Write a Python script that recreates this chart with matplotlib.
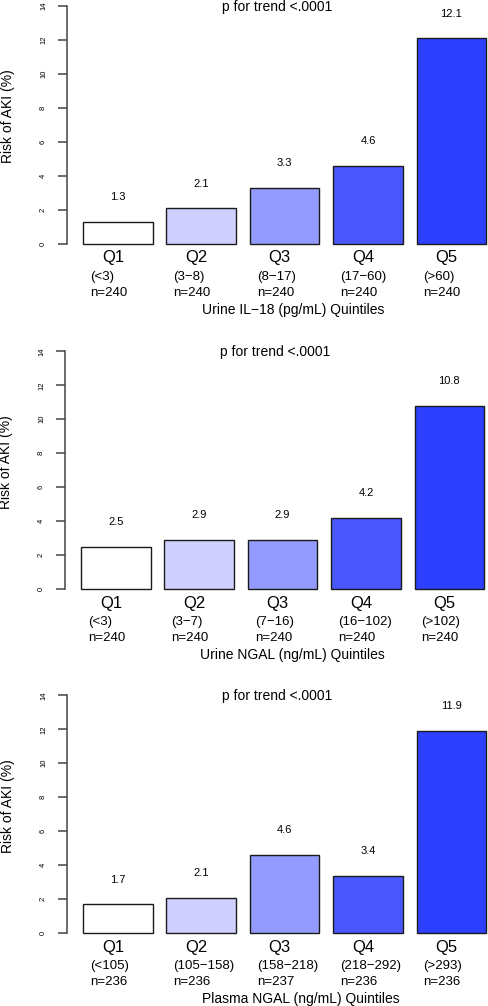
import numpy as np
import matplotlib
matplotlib.use("Agg")
import matplotlib.pyplot as plt

plt.rcParams["font.family"] = ["Liberation Sans", "DejaVu Sans"]

# --- data -------------------------------------------------------------
quintiles = ["Q1", "Q2", "Q3", "Q4", "Q5"]

il18_risk = [1.3, 2.1, 3.3, 4.6, 12.1]
il18_ranges = ["(<3)", "(3\u22128)", "(8\u221217)", "(17\u221260)", "(>60)"]
il18_n = [240, 240, 240, 240, 240]

ungal_risk = [2.5, 2.9, 2.9, 4.2, 10.8]
ungal_ranges = ["(<3)", "(3\u22127)", "(7\u221216)", "(16\u2212102)", "(>102)"]
ungal_n = [240, 240, 240, 240, 240]

pngal_risk = [1.7, 2.1, 4.6, 3.4, 11.9]
pngal_ranges = ["(<105)", "(105\u2212158)", "(158\u2212218)", "(218\u2212292)", "(>293)"]
pngal_n = [236, 236, 237, 236, 236]

xlabels = ["Urine IL\u221218 (pg/mL) Quintiles",
           "Urine NGAL (ng/mL) Quintiles",
           "Plasma NGAL (ng/mL) Quintiles"]
trend_text = "p for trend <.0001"
bar_colors = ["#FFFFFF", "#D0D0FF", "#939BFF", "#4A57FF", "#2D40FF"]

panels = [
    (il18_risk, il18_ranges, il18_n, xlabels[0]),
    (ungal_risk, ungal_ranges, ungal_n, xlabels[1]),
    (pngal_risk, pngal_ranges, pngal_n, xlabels[2]),
]

# --- layout (pixels measured on the reference) -------------------------
W, H = 488, 1006
PX_X, PX_Y = 69.5, 17.0          # pixels per data unit
XLIM = (-0.032, 6.232)
YLIM = (-0.6, 15.6)
# (pixel x of data 0.2, pixel y of data 0) per panel
anchors = [(83, 244), (81, 589.3), (83, 933.3)]

fig = plt.figure(figsize=(W / 100, H / 100), dpi=100)

lefts = 0.2 + 1.2 * np.arange(len(quintiles))
centers = lefts + 0.5

for (risk, ranges, ns, xlab), (x02, y0) in zip(panels, anchors):
    left_px = x02 - (0.2 - XLIM[0]) * PX_X
    bottom_px = y0 + (0 - YLIM[0]) * PX_Y
    w_px = (XLIM[1] - XLIM[0]) * PX_X
    h_px = (YLIM[1] - YLIM[0]) * PX_Y
    ax = fig.add_axes([left_px / W, (H - bottom_px) / H, w_px / W, h_px / H])
    ax.set_xlim(*XLIM)
    ax.set_ylim(*YLIM)
    ax.patch.set_visible(False)

    ax.bar(lefts, risk, width=1.0, align="edge", color=bar_colors,
           edgecolor="#1a1a1a", linewidth=1.0)

    for c, l, v, rng, n, q in zip(centers, lefts, risk, ranges, ns, quintiles):
        ax.text(c, v + 1.45, f"{v:.1f}", ha="center", va="center", fontsize=8)
        ax.text(c - 0.07, -0.82, q, ha="center", va="center", fontsize=12,
                clip_on=False)
        ax.text(l + 0.1, -1.94, rng, ha="left", va="center", fontsize=9.5,
                clip_on=False)
        ax.text(l + 0.1, -2.88, f"n={n}", ha="left", va="center", fontsize=9.5,
                clip_on=False)

    ax.text(1.91, -3.88, xlab, ha="left", va="center", fontsize=10, clip_on=False)
    ax.text(3.0, 13.95, trend_text, ha="center", va="center", fontsize=10)
    ax.text(-0.135, 0.5, "Risk of AKI (%)", transform=ax.transAxes,
            rotation=90, ha="center", va="center", fontsize=10)

    for s in ["top", "right", "bottom"]:
        ax.spines[s].set_visible(False)
    ax.spines["left"].set_bounds(0, 14)
    ax.spines["left"].set_color("#444444")
    ax.spines["left"].set_linewidth(1.1)
    ax.set_xticks([])
    ax.set_yticks(np.arange(0, 15, 2))
    ax.tick_params(axis="y", length=6.8, width=1.1, color="#444444",
                   labelsize=5.5, pad=7.5, labelrotation=90)
    for t in ax.get_yticklabels():
        t.set_va("center")

fig.savefig("out.png", dpi=100)
